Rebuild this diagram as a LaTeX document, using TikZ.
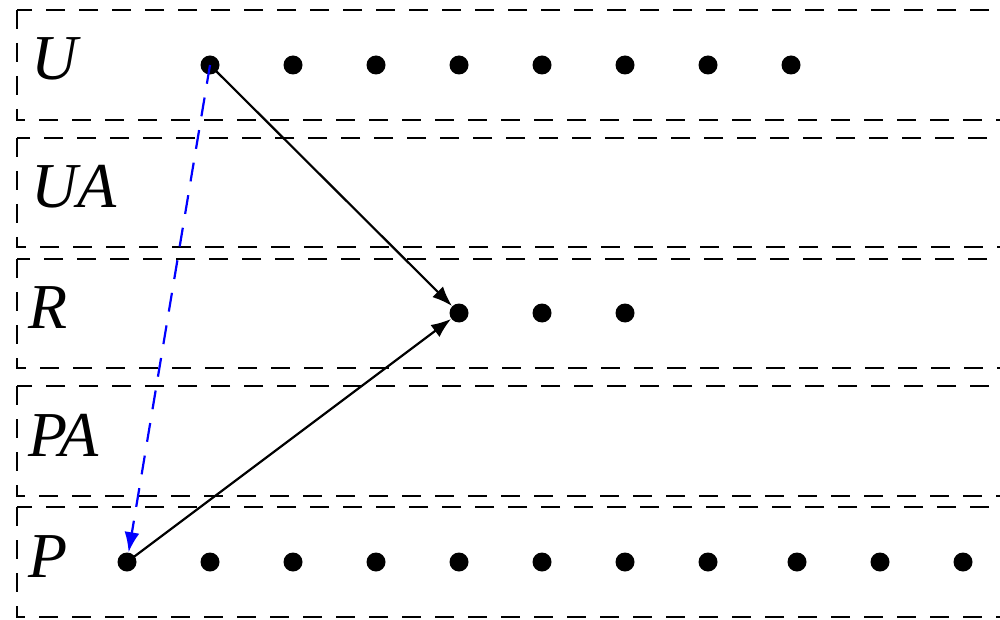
\documentclass[tikz,border=0pt]{standalone}
\usepackage{fontspec}
\setmainfont{Liberation Serif}
\usetikzlibrary{arrows.meta}
\tikzset{
  band/.style={draw=black, line width=1.3pt, dash pattern=on 9.5pt off 7pt},
  dot/.style={circle, fill=black, inner sep=0pt, minimum size=9.5pt},
  lbl/.style={anchor=base west, inner sep=0pt, font=\fontsize{32}{38}\selectfont\itshape},
  arr/.style={line width=1.1pt, -{Latex[length=10pt,width=7.5pt]}},
  bluearr/.style={line width=1.1pt, blue, dash pattern=on 9.5pt off 7pt, -{Latex[length=10pt,width=7.5pt]}}
}
\begin{document}
\begin{tikzpicture}[x=0.5pt,y=-0.5pt]
\useasboundingbox (0,0) rectangle (1000,620);
\clip (0,0) rectangle (1000,620);
% bands
\draw[band] (17,10) rectangle (1020,120);
\draw[band] (17,138) rectangle (1020,247);
\draw[band] (17,259) rectangle (1020,368);
\draw[band] (17,386) rectangle (1020,496);
\draw[band] (17,507) rectangle (1020,617);
% labels
\node[lbl] (lU) at (31,80) {U};
\node[lbl] (lUA) at (31,207) {UA};
\node[lbl] (lR) at (28,328) {R};
\node[lbl] (lPA) at (28,456) {PA};
\node[lbl] (lP) at (28,577) {P};
% dots U row
\foreach \x [count=\i] in {210,293,376,459,542,625,708,791}
  \node[dot] (u\i) at (\x,65) {};
% dots R row
\foreach \x [count=\i] in {459,542,625}
  \node[dot] (r\i) at (\x,313) {};
% dots P row
\foreach \x [count=\i] in {127,210,293,376,459,542,625,708,797,880,963}
  \node[dot] (p\i) at (\x,562) {};
% arrows
\draw[arr] (u1.center) -- (r1);
\draw[arr] (p1.center) -- (r1);
\draw[bluearr] (u1.center) -- (p1);
\end{tikzpicture}
\end{document}
